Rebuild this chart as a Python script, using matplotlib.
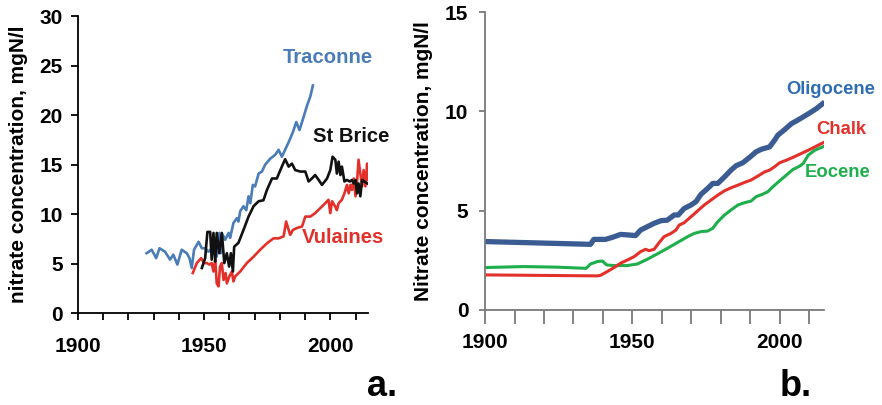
import matplotlib
matplotlib.use("Agg")
import matplotlib.pyplot as plt

plt.rcParams["font.family"] = ["Liberation Sans", "DejaVu Sans"]
plt.rcParams["font.weight"] = "bold"

# Panel a: observed nitrate at three springs/boreholes
traconne_year = [1927.2, 1929.2, 1931.0, 1932.3, 1934.5, 1936.5, 1937.8, 1939.4, 1941.1, 1943.1,
                 1944.2, 1945.1, 1946.0, 1947.8, 1949.1, 1950.4, 1951.7, 1953.0, 1954.4, 1955.0,
                 1956.0, 1956.6, 1957.4, 1958.3, 1959.7, 1960.3, 1961.6, 1963.0, 1963.6, 1964.3,
                 1965.6, 1966.7, 1967.6, 1968.3, 1969.3, 1970.2, 1971.6, 1972.9, 1974.2, 1976.2,
                 1978.2, 1979.5, 1980.8, 1982.1, 1983.9, 1985.2, 1986.5, 1987.8, 1989.4, 1990.7,
                 1992.1, 1993.1]
traconne_val = [6.05, 6.4, 5.55, 6.55, 6.2, 5.4, 5.9, 4.9, 6.4, 6.05,
                5.55, 4.55, 6.4, 7.2, 6.55, 6.55, 6.2, 6.5, 7.4, 5.7,
                8.1, 6.05, 7.9, 7.4, 8.1, 7.6, 9.1, 9.6, 9.25, 10.3,
                10.8, 10.4, 11.8, 11.1, 12.95, 12.8, 14.1, 14.3, 15.0, 15.6,
                16.0, 16.5, 15.8, 16.5, 17.5, 18.3, 19.3, 18.5, 19.8, 20.9,
                21.9, 23.0]

stbrice_year = [1949.1, 1950.4, 1951.3, 1952.4, 1953.0, 1953.7, 1954.4, 1955.0, 1956.0, 1957.0,
                1958.0, 1959.0, 1959.9, 1960.6, 1961.4, 1961.9, 1963.6, 1965.6, 1967.6, 1969.6,
                1971.6, 1973.5, 1974.9, 1976.9, 1978.8, 1980.8, 1982.1, 1983.5, 1984.8, 1986.1,
                1988.1, 1990.1, 1991.4, 1992.7, 1994.0, 1995.4, 1996.7, 1998.7, 2000.0, 2000.9,
                2002.0, 2002.6, 2003.3, 2004.0, 2004.6, 2005.6, 2006.6, 2007.7, 2008.6, 2009.3,
                2010.0, 2010.6, 2011.2, 2011.9, 2012.6, 2013.5, 2014.6]
stbrice_val = [4.55, 5.55, 8.2, 8.2, 5.4, 8.1, 5.2, 8.1, 6.05, 8.1,
               5.05, 6.05, 4.7, 6.05, 4.2, 6.7, 7.1, 8.4, 9.75, 10.8,
               11.3, 11.4, 12.45, 13.6, 13.6, 14.8, 15.55, 14.8, 15.1, 14.45,
               14.3, 14.3, 13.3, 13.6, 13.95, 13.45, 12.95, 13.6, 14.45, 15.8,
               15.5, 14.1, 15.3, 13.95, 14.8, 13.3, 13.45, 13.3, 13.45, 13.1,
               13.45, 12.1, 13.1, 11.8, 13.45, 13.3, 13.1]

vulaines_year = [1945.5, 1947.1, 1948.8, 1950.0, 1951.1, 1952.1, 1953.0, 1953.7, 1954.4, 1955.0,
                 1955.7, 1956.3, 1957.0, 1957.7, 1958.5, 1959.0, 1960.0, 1961.0, 1961.6, 1962.3,
                 1964.3, 1966.9, 1969.6, 1972.2, 1974.9, 1977.5, 1979.5, 1981.5, 1982.5, 1983.5,
                 1984.1, 1985.2, 1986.8, 1988.8, 1990.1, 1992.1, 1994.0, 1996.0, 1998.0, 1999.3,
                 2000.0, 2000.7, 2002.0, 2002.6, 2003.3, 2004.6, 2005.6, 2006.6, 2007.3, 2008.0,
                 2008.6, 2009.3, 2010.0, 2010.6, 2011.2, 2011.9, 2012.6, 2013.2, 2013.9, 2014.6,
                 2015.0]
vulaines_val = [4.05, 5.05, 5.55, 5.05, 5.05, 4.9, 5.05, 4.2, 5.4, 3.0,
                2.7, 4.7, 5.05, 3.35, 4.05, 3.0, 3.7, 4.2, 3.2, 3.7,
                4.2, 5.05, 5.7, 6.4, 7.05, 7.55, 7.55, 7.75, 9.25, 8.4,
                7.9, 8.4, 8.6, 8.75, 9.75, 9.75, 10.1, 10.6, 11.1, 11.45,
                10.1, 11.3, 10.75, 10.4, 11.1, 11.45, 12.1, 12.95, 12.1, 12.95,
                12.45, 13.6, 11.8, 13.3, 15.5, 14.1, 12.8, 14.45, 12.8, 15.1,
                13.45]

# Panel b: modelled nitrate by aquifer layer
oligo_year = [1900.0, 1935.8, 1936.9, 1940.9, 1943.2, 1946.0, 1948.9, 1951.1, 1952.8, 1955.1,
              1957.4, 1959.7, 1961.9, 1964.2, 1965.6, 1967.6, 1969.9, 1971.6, 1973.3, 1975.6,
              1977.3, 1979.0, 1981.3, 1983.5, 1985.2, 1987.5, 1989.8, 1992.0, 1993.8, 1996.6,
              1998.3, 1999.4, 2001.7, 2004.0, 2005.7, 2008.0, 2010.2, 2012.5, 2015.3]
oligo_val = [3.44, 3.30, 3.55, 3.55, 3.65, 3.80, 3.77, 3.74, 4.02, 4.19,
             4.36, 4.49, 4.52, 4.78, 4.78, 5.11, 5.28, 5.45, 5.82, 6.12,
             6.37, 6.37, 6.70, 7.04, 7.26, 7.41, 7.68, 7.96, 8.09, 8.21,
             8.55, 8.80, 9.08, 9.38, 9.52, 9.72, 9.92, 10.14, 10.47]

chalk_year = [1900.0, 1938.1, 1939.2, 1941.5, 1943.8, 1946.0, 1948.3, 1950.6, 1952.8, 1954.5,
              1955.7, 1957.4, 1959.1, 1960.8, 1963.1, 1964.8, 1965.9, 1967.6, 1969.9, 1972.2,
              1974.4, 1976.7, 1979.0, 1981.3, 1983.5, 1985.8, 1988.1, 1990.3, 1992.6, 1994.9,
              1996.6, 1998.3, 2000.0, 2002.3, 2004.5, 2006.8, 2009.7, 2012.5, 2015.3]
chalk_val = [1.76, 1.71, 1.74, 1.93, 2.13, 2.35, 2.51, 2.68, 2.93, 3.05,
             2.98, 3.05, 3.39, 3.69, 3.85, 4.02, 4.27, 4.39, 4.69, 4.99,
             5.28, 5.53, 5.78, 6.00, 6.15, 6.28, 6.42, 6.54, 6.74, 6.95,
             7.04, 7.21, 7.41, 7.54, 7.68, 7.84, 8.04, 8.25, 8.46]

eocene_year = [1900.0, 1913.1, 1924.4, 1934.3, 1935.8, 1938.1, 1939.8, 1941.3, 1943.8, 1948.3,
               1951.7, 1955.1, 1958.5, 1961.9, 1965.3, 1968.8, 1971.0, 1973.3, 1975.6, 1977.3,
               1979.0, 1981.3, 1983.5, 1985.8, 1988.1, 1990.3, 1992.0, 1994.3, 1996.0, 1997.7,
               2000.0, 2002.3, 2004.5, 2006.8, 2008.0, 2009.7, 2011.9, 2015.3]
eocene_val = [2.13, 2.18, 2.15, 2.09, 2.31, 2.43, 2.46, 2.26, 2.23, 2.23,
              2.31, 2.55, 2.82, 3.10, 3.39, 3.69, 3.85, 3.94, 3.97, 4.11,
              4.44, 4.78, 5.03, 5.28, 5.40, 5.48, 5.70, 5.83, 5.95, 6.20,
              6.50, 6.79, 7.07, 7.24, 7.37, 7.79, 8.04, 8.25]

year_ticks = [1900, 1950, 2000]

c_traconne = "#4a7cb8"
c_black = "#111111"
c_red = "#e3302a"
c_oligo_line = "#3b5c92"
c_oligo_text = "#2f6db3"
c_green = "#1fae4c"
c_axis_b = "#7a7a7a"

TICK_FS = 15
NAME_FS_A = 14.6
NAME_FS_B = 13.3
YLAB_FS = 15

fig = plt.figure(figsize=(8.82, 4.05), dpi=100)
ax1 = fig.add_axes([0.0884, 0.227, 0.329, 0.733])
ax2 = fig.add_axes([0.550, 0.235, 0.384, 0.735])

for ax in (ax1, ax2):
    for side in ("top", "right"):
        ax.spines[side].set_visible(False)
    for side in ("left", "bottom"):
        ax.spines[side].set_linewidth(1.3)
    ax.set_xlim(1900, 2015)
    ax.set_xticks(year_ticks)
    ax.set_xticks(range(1900, 2016, 10), minor=True)
    ax.tick_params(axis="both", which="both", labelsize=TICK_FS, width=1.3, direction="out")
    for lbl in ax.get_xticklabels() + ax.get_yticklabels():
        lbl.set_fontweight("bold")

# ---- panel a ----
ax1.plot(traconne_year, traconne_val, color=c_traconne, lw=1.9)
ax1.plot(vulaines_year, vulaines_val, color=c_red, lw=1.9)
ax1.plot(stbrice_year, stbrice_val, color=c_black, lw=1.9)
ax1.set_ylim(0, 30)
ax1.set_yticks(range(0, 31, 5))
ax1.tick_params(axis="x", which="both", length=5)
ax1.tick_params(axis="x", which="major", pad=12)
ax1.tick_params(axis="y", length=5, pad=6)
ax1.set_ylabel("nitrate concentration, mgN/l", fontsize=YLAB_FS, fontweight="bold", labelpad=8)
ax1.text(1981.0, 25.86, "Traconne", color=c_traconne, fontsize=NAME_FS_A, fontweight="bold",
         va="center")
ax1.text(1993.3, 17.8, "St Brice", color=c_black, fontsize=NAME_FS_A, fontweight="bold",
         va="center", clip_on=False)
ax1.text(1988.9, 7.6, "Vulaines", color=c_red, fontsize=NAME_FS_A, fontweight="bold",
         va="center", clip_on=False)

# ---- panel b ----
for side in ("left", "bottom"):
    ax2.spines[side].set_color(c_axis_b)
ax2.tick_params(axis="both", which="both", color=c_axis_b)
ax2.plot(eocene_year, eocene_val, color=c_green, lw=2.2, solid_capstyle="butt")
ax2.plot(chalk_year, chalk_val, color=c_red, lw=2.2, solid_capstyle="butt")
ax2.plot(oligo_year, oligo_val, color=c_oligo_line, lw=3.8, solid_capstyle="butt")
ax2.set_ylim(0, 15)
ax2.set_yticks([0, 5, 10, 15])
ax2.tick_params(axis="y", length=4, pad=8)
ax2.tick_params(axis="x", which="both", length=10)
ax2.tick_params(axis="x", which="major", pad=7)
ax2.set_ylabel("Nitrate concentration, mgN/l", fontsize=YLAB_FS, fontweight="bold", labelpad=9)
ax2.text(2002.4, 11.12, "Oligocene", color=c_oligo_text, fontsize=NAME_FS_B, fontweight="bold",
         va="center", ha="left", clip_on=False)
ax2.text(2012.6, 9.11, "Chalk", color=c_red, fontsize=NAME_FS_B, fontweight="bold",
         va="center", ha="left", clip_on=False)
ax2.text(2008.5, 6.9, "Eocene", color=c_green, fontsize=NAME_FS_B, fontweight="bold",
         va="center", ha="left", clip_on=False)

fig.text(382 / 882, 1 - 387 / 405, "a.", fontsize=26, fontweight="bold", ha="center", va="center")
fig.text(796 / 882, 1 - 387 / 405, "b.", fontsize=26, fontweight="bold", ha="center", va="center")

fig.savefig("out.png", dpi=100)
